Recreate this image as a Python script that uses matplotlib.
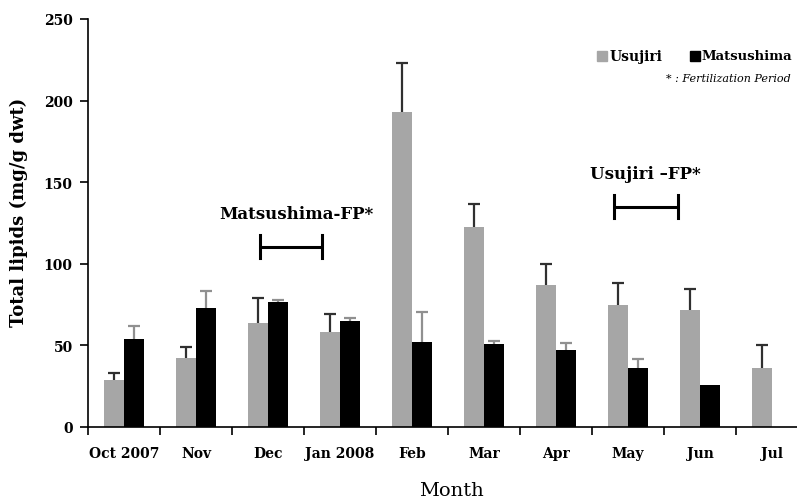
import matplotlib
matplotlib.use("Agg")
import matplotlib.pyplot as plt
import numpy as np

months = ["Oct 2007", "Nov", "Dec", "Jan 2008", "Feb", "Mar", "Apr", "May", "Jun", "Jul"]
usujiri = [29, 42, 64, 58, 193, 122.5, 87, 75, 71.5, 36]
usujiri_err = [4.3, 7.3, 14.9, 11, 30, 14, 13, 13, 13, 14]
matsushima = [53.7, 73, 76.4, 64.7, 52, 51, 47, 36.2, 25.9, np.nan]
matsushima_err = [8.2, 10.6, 1.2, 2.1, 18.4, 1.7, 4.7, 5.5, 0, 0]
yticks = [0, 50, 100, 150, 200, 250]

plt.rcParams['font.family'] = ['DejaVu Serif']

fig = plt.figure(figsize=(7.97, 5.02), dpi=100)
W, H = 797, 502
ax = fig.add_axes([88 / W, (H - 428) / H, 720 / W, 408 / H])

x = np.arange(len(months))
bw = 0.278
gray = "#a6a6a6"


def upper_err(xs, ys, es, color, z):
    xs = np.asarray(xs, float)
    ys = np.asarray(ys, float)
    es = np.asarray(es, float)
    m = (es > 0) & ~np.isnan(ys)
    _, caps, _ = ax.errorbar(xs[m], ys[m], yerr=[np.zeros(m.sum()), es[m]], fmt='none',
                             ecolor=color, elinewidth=1.6, capsize=4, capthick=1.6, zorder=z)
    # hide the lower cap (one-sided error bars)
    caps[0].set_visible(False)


ax.bar(x - bw / 2, usujiri, bw, color=gray, zorder=2)
upper_err(x - bw / 2, usujiri, usujiri_err, "#303030", 3)
ax.bar(x + bw / 2, matsushima, bw, color="black", zorder=2)
upper_err(x + bw / 2, matsushima, matsushima_err, "#909090", 1)

ax.set_xlim(-0.5, 9.5)
ax.set_ylim(0, 250)
ax.set_yticks(yticks)
ax.set_yticklabels([str(v) for v in yticks], fontsize=10, fontweight='bold')
ax.set_xticks(x)
ax.set_xticklabels(months, fontsize=10, fontweight='bold')
ax.set_xticks(np.arange(-0.5, 10, 1), minor=True)
ax.tick_params(axis='x', which='major', length=0, pad=14)
ax.tick_params(axis='x', which='minor', length=6, width=1.2, direction='out')
ax.tick_params(axis='y', length=6, width=1.2, direction='out', pad=5)
for s in ['top', 'right']:
    ax.spines[s].set_visible(False)
for s in ['left', 'bottom']:
    ax.spines[s].set_linewidth(1.2)

fig.text(19 / W, 1 - 212 / H, "Total lipids (mg/g dwt)", fontsize=13, fontweight='bold',
         rotation=90, ha='center', va='center')
fig.text(451 / W, 1 - 491 / H, "Month", fontsize=14, ha='center', va='center')


# fertilization period annotations
def bracket(x0, x1, y, label, tx, ty):
    ax.plot([x0, x1], [y, y], color='black', lw=2.2, zorder=4, solid_capstyle='butt')
    ax.plot([x0, x0], [y - 7, y + 7], color='black', lw=2.2, zorder=4)
    ax.plot([x1, x1], [y - 7, y + 7], color='black', lw=2.2, zorder=4)
    ax.text(tx, ty, label, fontsize=12, fontweight='bold', ha='center', va='center')


bracket(1.889, 2.75, 110.5, "Matsushima-FP*", 2.40, 131)
bracket(6.80, 7.69, 135, "Usujiri \u2013FP*", 7.24, 155.5)

# legend
fig.patches.append(plt.Rectangle((597 / W, 1 - 62 / H), 10 / W, 10 / H, color=gray,
                                 transform=fig.transFigure, figure=fig))
fig.text(610 / W, 1 - 57 / H, "Usujiri", fontsize=10, fontweight='bold', va='center')
fig.patches.append(plt.Rectangle((690 / W, 1 - 62 / H), 10 / W, 10 / H, color='black',
                                 transform=fig.transFigure, figure=fig))
fig.text(792 / W, 1 - 57 / H, "Matsushima", fontsize=9.5, fontweight='bold', va='center',
         ha='right')
fig.text(791 / W, 1 - 79 / H, "* : Fertilization Period", fontsize=8, style='italic',
         ha='right', va='center')

fig.savefig("out.png", dpi=100)
